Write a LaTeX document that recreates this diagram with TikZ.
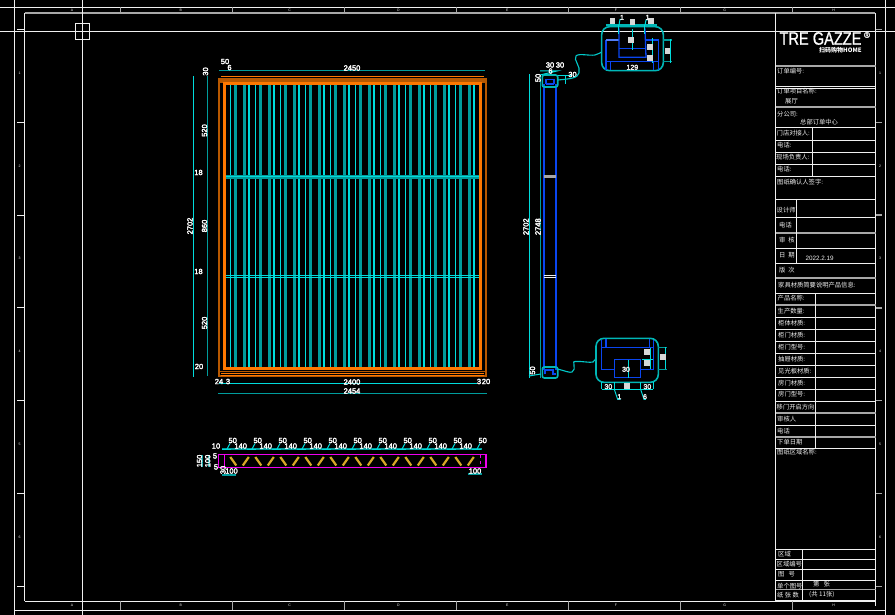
\documentclass[tikz,border=0pt]{standalone}
\usepackage{fontspec}
\setmainfont{Liberation Sans}
\newfontfamily\cjkf{Noto Sans CJK SC}
\newfontfamily\dimf[FakeBold=3]{Liberation Sans}
\newfontfamily\logof[FakeBold=1]{Liberation Sans}
\definecolor{frameW}{HTML}{F0F0F0}
\definecolor{frameG}{HTML}{A8A8A8}
\definecolor{cyanB}{HTML}{00DCDC}
\definecolor{tealD}{HTML}{009C9C}
\definecolor{orgB}{HTML}{FF7800}
\definecolor{orgD}{HTML}{B85800}
\definecolor{blueB}{HTML}{0A46F0}
\definecolor{magB}{HTML}{F000F0}
\definecolor{goldB}{HTML}{D8A828}
\tikzset{
  fw/.style={draw=frameW,line width=1pt},
  fg/.style={draw=frameG,line width=1.4pt},
  cell/.style={draw=frameW,line width=1pt},
  tb/.style={font=\cjkf\fontsize{6.3}{6.3}\selectfont,text=frameW,anchor=west,inner sep=0pt},
  dimt/.style={font=\dimf\fontsize{7.5}{7.5}\selectfont,text=white,inner sep=0pt},
  dimg/.style={font=\dimf\fontsize{7}{7}\selectfont,text=frameW,inner sep=0pt},
  dl/.style={draw=tealD,line width=1.2pt},
  dc/.style={draw=cyanB,line width=1pt},
  bl/.style={draw=blueB,line width=1.3pt},
  det/.style={draw=tealD!60!cyanB,line width=1.6pt},
  tick/.style={font=\fontsize{3.5}{3.5}\selectfont,text=frameW,inner sep=0pt}
}
\begin{document}
\begin{tikzpicture}[x=1pt,y=-1pt]
\useasboundingbox (0,0) rectangle (895,615);
\fill[black] (0,0) rectangle (895,615);
% ---- drawing border
\draw[fw] (0,7.5) -- (895,7.5);
\draw[fw] (0,31.5) -- (895,31.5);
\draw[fw] (14.5,0) -- (14.5,615);
\draw[fw] (885.5,0) -- (885.5,615);
\draw[fw] (14.5,610.5) -- (885.5,610.5);
\draw[fw] (24.5,13) -- (24.5,601);
\draw[fg] (24.5,13) -- (875,13);
\draw[fw] (24.5,601.5) -- (875,601.5);
\draw[fw] (82.5,0) -- (82.5,615);
\draw[fw] (75.5,23.5) rectangle (89.5,39.5);
\foreach \i in {0,...,6}{
  \draw[fg,line width=1pt] ({120.5+112*\i},7) -- ({120.5+112*\i},13);
  \draw[fg,line width=1pt] ({120.5+112*\i},601) -- ({120.5+112*\i},610);
}
\foreach \i in {0,...,6}{
  \draw[fw] (17,{29.5+92.8*\i}) -- (24.5,{29.5+92.8*\i});
  \draw[fg] (875,{29.5+92.8*\i}) -- (882,{29.5+92.8*\i});
}
\foreach \i/\t in {0/A,1/B,2/C,3/D,4/E,5/F,6/G,7/H}{
  \node[tick] at ({72+108.8*\i},9.8) {\t};
  \node[tick] at ({72+108.8*\i},605.5) {\t};
}
\foreach \i/\t in {0/1,1/2,2/3,3/4,4/5,5/6}{
  \node[tick] at (19.5,{73+92.8*\i}) {\t};
  \node[tick] at (880,{73+92.8*\i}) {\t};
}
% ---- title block
\draw[cell] (775.5,13) -- (775.5,601);
\draw[cell] (875.5,13) -- (875.5,606);
\foreach \y in {65.5,86.5,88.5,107.5,127.5,140.5,152.5,164.5,176.5,199.5,217.5,233.5,248.5,263.5,278.5,293.5,305.5,317.5,329.5,341.5,353.5,365.5,377.5,389.5,401.5,413.5,425.5,437.5,448.5,549.5,559.5,569.5,580.5,600.5}{
  \draw[cell] (775.5,\y) -- (875.5,\y);
}
\foreach \y in {66,107,233,278,305,413,437,589.5}{\draw[fg] (775.5,\y) -- (875.5,\y);}
\draw[cell] (812.5,127) -- (812.5,176);
\draw[cell] (796.5,199) -- (796.5,263);
\draw[cell] (815.5,293) -- (815.5,448);
\draw[cell] (802.5,549) -- (802.5,600);
\node[font=\logof\fontsize{18}{18}\selectfont,text=white,anchor=center,inner sep=0pt,xscale=.81] at (820.5,38.5) {TRE GAZZE};
\node[font=\logof\fontsize{8}{8}\selectfont,text=white,inner sep=0pt] at (867,35) {®};
\node[font=\cjkf\bfseries\fontsize{6}{6}\selectfont,text=white,anchor=west,inner sep=0pt] at (819,50.5) {扫码购物HOME};
\foreach \x/\y/\t in {
 777/71/订单编号:, 777/91.5/订单项目名称:, 785/101.5/展厅, 777/114.5/分公司:, 800/122/总部订单中心,
 776.5/133/门店对接人:, 777/145.5/电话:, 776/157.5/现场负责人:, 777/169.5/电话:, 777/182/图纸确认人签字:,
 776.5/210/设计师, 779/225/电话, 779/240.5/审~~核, 779/255.5/日~~期, 779/270.5/版~~次,
 778/285.5/家具材质简要说明产品信息:, 777.5/298.5/产品名称:, 777.5/311/生产数量:, 778/323/柜体材质:, 778/335/柜门材质:,
 778/347/柜门型号:, 778/359/抽屉材质:, 778/371/见光板材质:, 778/383/房门材质:, 778/394.5/房门型号:,
 776.5/407.5/移门开启方向:, 777/419/审核人, 777/431.5/电话, 777/442.5/下单日期, 777/452.5/图纸区域名称:,
 778/554/区域, 776.5/564/区域编号, 778/574.5/图~~~号, 777/586/单个图号, 777/595/纸~张~数,
 813/584.5/第~~~张, 809/594.5/(共~11张)}{
  \node[tb] at (\x,\y) {\t};
}
\node[font=\fontsize{6.3}{6.3}\selectfont,text=frameW,anchor=west,inner sep=0pt] at (805.5,258.5) {2022.2.19};
% ---- front view: frame
\draw[orgD,line width=2pt] (219,79) rectangle (486,376);
\fill[orgD] (218,79.5) rectangle (486,83.5);
\draw[orgB,line width=1.2pt] (221,76.5) -- (484,76.5);
\draw[orgB,line width=3pt] (224,84) -- (224,368.5) -- (480.3,368.5) -- (480.3,84) -- cycle;
\fill[orgD] (218,370.5) rectangle (486,372);
\draw[orgB,line width=1.2pt] (221,373.5) -- (484,373.5);
\draw[orgB,line width=1.2pt] (221,375.5) -- (484,375.5);
% louvre slats
\foreach \i in {0,...,9}{
  \draw[cyanB,line width=1.3pt] ({230.7+25*\i},85.5) -- ({230.7+25*\i},367);
  \draw[tealD,line width=3pt] ({235.7+25*\i},85.5) -- ({235.7+25*\i},367);
  \draw[tealD,line width=3pt] ({244+25*\i},85.5) -- ({244+25*\i},367);
  \draw[cyanB,line width=1.3pt] ({249+25*\i},85.5) -- ({249+25*\i},367);
}
\fill[tealD] (225.5,175) rectangle (479,179);
\draw[cyanB,line width=.8pt] (225.5,176.5) -- (479,176.5);
\draw[cyanB,line width=1pt] (225.5,275) -- (479,275);
\draw[cyanB,line width=1pt] (225.5,277.5) -- (479,277.5);
% dimensions of front view
\draw[dl] (219,70.5) -- (485,70.5);
\draw[dc] (193.3,76) -- (193.3,377);
\draw[dl] (207.7,76) -- (207.7,376);
\draw[dc] (219,383.5) -- (477,383.5);
\draw[dl] (218,393.5) -- (487,393.5);
\foreach \x/\y/\r/\t in {
 352/68/0/2450, 225/61.5/0/50, 229.5/67.5/0/6, 205.5/71.5/90/30,
 204.5/130.5/90/520, 198.5/172.5/0/18, 204.5/226/90/860, 198.5/271.5/0/18, 204.5/323/90/520, 199/366.5/0/20,
 190/226/90/2702,
 352/382/0/2400, 219/381.5/0/24, 228/381.5/0/3, 479/381.5/0/3, 486/381.5/0/20, 352/391/0/2454}{
  \node[dimt,rotate=\r] at (\x,\y) {\t};
}
% ---- section view
\draw[draw=magB,line width=1.3pt] (218.5,454.5) rectangle (486,467.5);
\draw[draw=magB,line width=1pt] (224.3,454.5) -- (224.3,467.5);
\draw[draw=magB,line width=1pt,dashed] (480.3,454.5) -- (480.3,467.5);
\foreach \i in {0,...,9}{
  \draw[goldB,line width=2.2pt] ({233.3+25*\i-3},457) -- ({233.3+25*\i+3},465.5);
  \draw[goldB,line width=2.2pt] ({245.8+25*\i+3},457) -- ({245.8+25*\i-3},465.5);
}
\draw[dl] (222,449) -- (482,449);
\foreach \i in {0,...,10}{
  \draw[dc] ({227+25*\i},449) -- ({230+25*\i},443.5);
  \draw[dc] ({222+25*\i},449) -- ({231+25*\i},449);
}
\foreach \i in {0,...,10}{\node[dimt] at ({232.7+25*\i},440.5) {50};}
\foreach \i in {0,...,9}{\node[dimt] at ({240.7+25*\i},446) {140};}
\node[dimt] at (216,446) {10};
\draw[dl] (202,455) -- (202,467);
\draw[dl] (209,455) -- (209,467);
\draw[dl] (222,475) -- (236,475);
\draw[dl] (468,474) -- (482,474);
\foreach \x/\y/\r/\t in {199.5/461/90/150, 207.7/461/90/100, 215/456/0/5, 216/467/0/5, 223/470/90/30, 231.5/471/0/100, 475/471/0/100}{
  \node[dimt,rotate=\r] at (\x,\y) {\t};
}
% ---- side view
\draw[dc] (529.3,74) -- (529.3,378);
\draw[dl] (540.7,75) -- (540.7,378);
\draw[blueB,line width=2.2pt] (543.9,84) -- (543.9,370);
\draw[blueB,line width=2.2pt] (555.7,84) -- (555.7,370);
\fill[frameG] (544,175) rectangle (555.5,178.5);
\draw[frameW,line width=.8pt] (544,275) -- (555.5,275);
\draw[frameW,line width=.8pt] (544,277.2) -- (555.5,277.2);
\draw[det,rounded corners=2pt] (542.3,75) rectangle (557.7,87);
\draw[det,rounded corners=2pt] (542.3,367) rectangle (557.7,378);
\draw[bl] (546,84) -- (546,79.5) -- (554,79.5) -- (554,84);
\draw[bl] (546,84) -- (554,84);
\draw[bl] (545,374) -- (545,370) -- (553,370) -- (553,374) -- (556,374);
\draw[dc] (540,75) -- (557,71) -- (540,71);
\draw[dc] (557.7,76) -- (572,76);
\draw[dc] (565,76) -- (565,84);
\draw[dc] (540.7,374) -- (529,376);
\foreach \x/\y/\r/\t in {526/226.7/90/2702, 538/226.7/90/2748, 550/65/0/30, 560/65/0/30, 550.5/71/0/6, 538/78/90/50, 572.5/74.5/0/30, 532.5/370.5/90/50}{
  \node[dimt,rotate=\r] at (\x,\y) {\t};
}
% leader curves
\draw[cyanB!70!tealD,line width=1.1pt] (557.7,80) .. controls (570,79) and (578,78) .. (579,73) .. controls (581,66) and (573,60) .. (576,56) .. controls (578,53) and (590,56) .. (595,55) .. controls (598,54) and (600,53) .. (601.7,52);
\draw[cyanB!70!tealD,line width=1.1pt] (557.7,369) .. controls (565,371) and (570,373) .. (572,372) .. controls (575,371) and (574,368) .. (574,365) .. controls (574,362) and (573,361) .. (575,361.5) .. controls (582,361) and (590,363) .. (593,362) .. controls (595,361) and (595,359) .. (596,358);
% ---- top detail
\begin{scope}[shift={(520,10)},x=.3333pt,y=-.3333pt]
\draw[det,rounded corners=8pt] (245,50) rectangle (430,182);
\draw[bl] (258,180) -- (258,90);
\draw[bl,draw=blueB!70!white,line width=1.6pt] (258,90) -- (298,90);
\draw[bl] (297,55) -- (297,142) -- (378,142) -- (375,55);
\draw[bl] (297,115) -- (375,115);
\draw[bl] (375,90) -- (415,90) -- (415,180);
\draw[bl] (258,155) -- (415,155);
\draw[bl] (272,155) -- (272,180);
\draw[bl] (400,155) -- (400,180);
\draw[det] (258,45) -- (410,45);
\draw[dc] (297,45) -- (297,72);
\draw[dc] (375,45) -- (375,72);
\draw[dc] (297,45) -- (300,28) -- (306,28);
\draw[dc] (375,45) -- (378,30) -- (386,30);
\draw[dc] (338,58) -- (338,120);
\draw[dc] (398,85) -- (398,160);
\draw[dl] (430,90) -- (455,90);
\draw[dl] (430,155) -- (455,155);
\draw[dc] (452,88) -- (452,160);
\foreach \x/\y in {277/33,337/37,393/33,333/90,390/112,390/145,443/123}{
  \fill[frameW!90!black] (\x-8,\y-9) rectangle (\x+8,\y+9);
}
\node[dimg] at (306,22) {1};
\node[dimg] at (383,22) {1};
\node[dimg] at (337,172) {129};
\end{scope}
% ---- bottom detail
\begin{scope}[shift={(520,320)},x=.3333pt,y=-.3333pt]
\draw[det,rounded corners=8pt] (228,55) rectangle (415,187);
\draw[bl] (245,60) -- (245,148) -- (283,148);
\draw[bl] (283,118) rectangle (362,172);
\draw[bl] (362,148) -- (400,148) -- (400,60);
\draw[bl] (245,82) -- (400,82);
\draw[bl] (258,58) -- (258,82);
\draw[bl] (388,58) -- (388,82);
\draw[dc] (325,120) -- (325,175);
\draw[dc] (392,85) -- (392,148);
\draw[dc] (365,118) -- (398,118);
\draw[dl] (415,82) -- (442,82);
\draw[dl] (415,148) -- (442,148);
\draw[dc] (438,82) -- (438,148);
\draw[dc] (245,208) -- (400,208);
\foreach \x in {245,283,362,400}{\draw[dc] (\x,187) -- (\x,208);}
\draw[dc] (283,208) -- (293,238) -- (302,238);
\draw[dc] (362,208) -- (372,238) -- (378,238);
\foreach \x/\y in {322/197,382/97,382/130,430/112}{
  \fill[frameW!90!black] (\x-9,\y-9) rectangle (\x+9,\y+9);
}
\node[dimg] at (265,200) {30};
\node[dimg] at (382,200) {30};
\node[dimg] at (318,148) {30};
\node[dimg] at (298,230) {1};
\node[dimg] at (375,230) {6};
\end{scope}
\end{tikzpicture}
\end{document}
